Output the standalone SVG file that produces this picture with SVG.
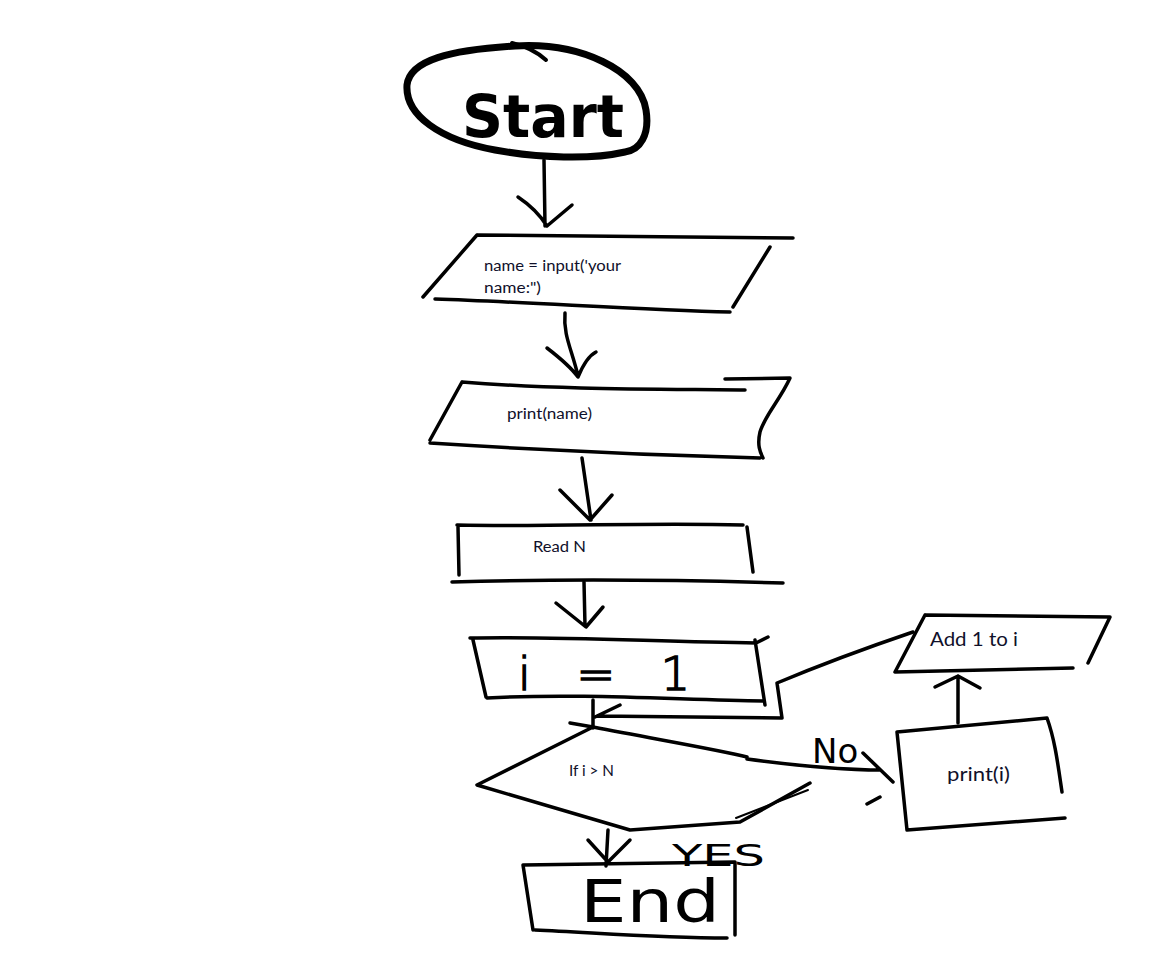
<svg xmlns="http://www.w3.org/2000/svg" width="1152" height="979" viewBox="0 0 1152 979">
<style>
.s{fill:none;stroke:#000;stroke-width:3.5;stroke-linecap:round;stroke-linejoin:round}
.t{font-family:Lato,"Open Sans","Liberation Sans",sans-serif;fill:#10102a}
.h{font-family:"DejaVu Sans","Liberation Sans",sans-serif;fill:#000}
</style>
<rect width="1152" height="979" fill="#fff"/>
<g id="start">
<path class="s" style="stroke-width:7" d="M515,46 C580,42 640,70 646,110 C650,135 640,150 625,152 C590,160 540,158 495,150 C440,140 405,115 407,85 C410,60 450,50 515,46 Z"/>
<path class="s" style="stroke-width:4" d="M512,43 C525,46 535,50 546,60"/>
<text class="h" x="462" y="137" font-size="58" font-weight="bold" textLength="162" lengthAdjust="spacingAndGlyphs">Start</text>
</g>
<g id="input">
<path class="s" d="M477,235 L793,238 M770,247 L733,307 M435,299 C530,302 640,310 730,312 M477,235 L423,297"/>
<text class="t" x="484" y="271" font-size="15.5" textLength="137" lengthAdjust="spacingAndGlyphs">name = input('your</text>
<text class="t" x="484" y="293" font-size="15.5" textLength="57" lengthAdjust="spacingAndGlyphs">name:")</text>
</g>
<g id="printname">
<path class="s" d="M462,382 C560,390 660,389 745,390 M725,379 L790,378 C780,400 765,415 760,432 C757,445 760,452 763,458 M430,443 C540,450 650,455 760,458 M462,382 L430,440"/>
<text class="t" x="507" y="419" font-size="15.5" textLength="85" lengthAdjust="spacingAndGlyphs">print(name)</text>
</g>
<g id="readn">
<path class="s" d="M457,525 C560,527 650,522 743,525 M458,527 L459,575 M747,527 L753,572 M452,582 C560,579 680,580 783,583"/>
<text class="t" x="533" y="552" font-size="15.5" textLength="53" lengthAdjust="spacingAndGlyphs">Read N</text>
</g>
<g id="init">
<path class="s" d="M470,638 C560,636 660,642 756,643 L768,637 M473,640 L486,697 M487,698 C580,693 680,700 763,701 M755,640 L765,705"/>
<text class="h" x="518" y="690" font-size="46" font-weight="300" stroke="#000" stroke-width="1.6" textLength="172" lengthAdjust="spacing">i = 1</text>
</g>
<g id="decision">
<path class="s" d="M593,727 L477,785 L630,830 L740,822 L810,783 M593,727 C660,740 720,750 747,757"/>
<path class="s" style="stroke-width:2" d="M736,818 L808,790"/>
<text class="t" x="569" y="776" font-size="15.5" textLength="45" lengthAdjust="spacingAndGlyphs">If i &gt; N</text>
</g>
<g id="end">
<path class="s" d="M523,865 L735,862 L735,935 M535,930 C600,933 660,938 727,938 M523,865 L533,930"/>
<text class="h" x="580" y="922" font-size="58" textLength="140" lengthAdjust="spacingAndGlyphs">End</text>
</g>
<g id="printi">
<path class="s" d="M897,732 L1047,718 C1055,740 1058,765 1062,792 M907,830 L1065,818 M897,732 L907,830"/>
<text class="t" x="947" y="781" font-size="19" textLength="63" lengthAdjust="spacingAndGlyphs">print(i)</text>
</g>
<g id="addone">
<path class="s" d="M925,615 L1110,617 L1088,663 M895,672 L1073,668 M925,615 L895,672"/>
<text class="t" x="930" y="646" font-size="19" textLength="88" lengthAdjust="spacingAndGlyphs">Add 1 to i</text>
</g>
<g id="connectors">
<path class="s" d="M544,160 L545,226 M518,197 C530,205 540,215 547,226 L572,205"/>
<path class="s" d="M565,313 C563,335 572,350 578,376 M547,348 C560,358 570,366 578,377 C583,365 588,356 596,352"/>
<path class="s" d="M582,458 L591,520 M560,490 L590,520 L612,495"/>
<path class="s" d="M584,582 L585,626 M556,603 L586,627 L603,607"/>
<path class="s" d="M593,700 L593,728 M570,723 L593,727"/>
<path class="s" d="M913,632 C860,650 820,665 777,683 L782,718 L597,716 M620,705 L595,717"/>
<path class="s" d="M747,759 C800,766 840,770 880,770 M863,753 L893,782 M867,804 L880,797"/>
<path class="s" d="M958,723 L958,676 M935,687 L958,676 L980,688"/>
<path class="s" d="M608,830 L606,866 M588,840 L608,862 L630,840"/>
<text class="h" x="812" y="763" font-size="34">No</text>
<text class="h" x="672" y="866" font-size="30" textLength="93" lengthAdjust="spacingAndGlyphs">YES</text>
</g>
</svg>
